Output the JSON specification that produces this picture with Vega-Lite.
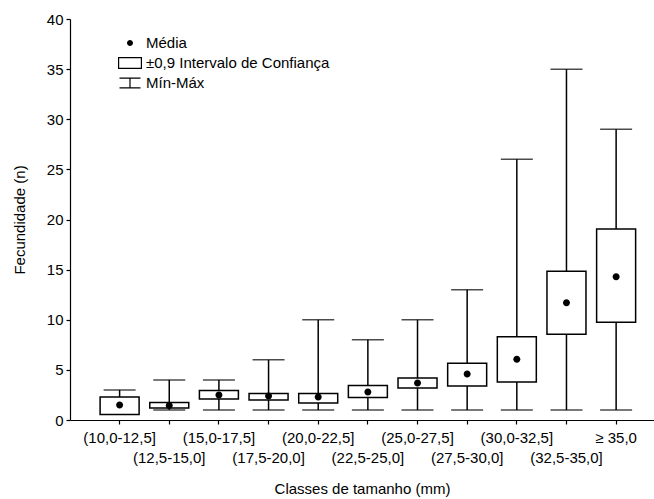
{
  "$schema": "https://vega.github.io/schema/vega-lite/v6.json",
  "autosize": {"type": "none"},
  "padding": {"left": 70, "top": 19, "right": 0, "bottom": 79},
  "width": 584,
  "height": 401,
  "background": "white",
  "config": {
    "view": {"stroke": null},
    "font": "Liberation Sans",
    "axis": {
      "domainColor": "black", "tickColor": "black", "labelColor": "black", "titleColor": "black",
      "labelFont": "Liberation Sans", "titleFont": "Liberation Sans",
      "labelFontSize": 15, "titleFontSize": 15, "titleFontWeight": "normal",
      "grid": false, "tickSize": 4, "domainWidth": 1.2, "tickWidth": 1.2
    },
    "legend": {"labelFont": "Liberation Sans", "labelFontSize": 15, "labelColor": "black"}
  },
  "data": {
    "values": [
      {"classe": "(10,0-12,5]", "min": 1, "max": 3, "lo": 0.55, "hi": 2.3, "media": 1.5},
      {"classe": "(12,5-15,0]", "min": 1, "max": 4, "lo": 1.2, "hi": 1.75, "media": 1.45},
      {"classe": "(15,0-17,5]", "min": 1, "max": 4, "lo": 2.1, "hi": 2.95, "media": 2.5},
      {"classe": "(17,5-20,0]", "min": 1, "max": 6, "lo": 2.0, "hi": 2.65, "media": 2.4},
      {"classe": "(20,0-22,5]", "min": 1, "max": 10, "lo": 1.7, "hi": 2.65, "media": 2.3},
      {"classe": "(22,5-25,0]", "min": 1, "max": 8, "lo": 2.25, "hi": 3.45, "media": 2.8},
      {"classe": "(25,0-27,5]", "min": 1, "max": 10, "lo": 3.2, "hi": 4.2, "media": 3.7},
      {"classe": "(27,5-30,0]", "min": 1, "max": 13, "lo": 3.4, "hi": 5.65, "media": 4.6},
      {"classe": "(30,0-32,5]", "min": 1, "max": 26, "lo": 3.8, "hi": 8.3, "media": 6.05},
      {"classe": "(32,5-35,0]", "min": 1, "max": 35, "lo": 8.55, "hi": 14.85, "media": 11.7},
      {"classe": "≥ 35,0", "min": 1, "max": 29, "lo": 9.75, "hi": 19.05, "media": 14.3}
    ]
  },
  "encoding": {
    "x": {
      "field": "classe", "type": "nominal", "sort": null,
      "scale": {"type": "band", "paddingInner": 0, "paddingOuter": 0.381, "align": 0.655},
      "axis": {
        "title": "Classes de tamanho (mm)", "labelAngle": 0, "bandPosition": 0.5,
        "labelPadding": 6, "labelLineHeight": 20, "titlePadding": 16,
        "labelExpr": "indexof(domain('x'), datum.value) % 2 == 1 ? ['', datum.label] : datum.label"
      }
    }
  },
  "layer": [
    {
      "mark": {"type": "rule", "color": "black", "strokeWidth": 1.5},
      "encoding": {
        "y": {"field": "min", "type": "quantitative", "scale": {"domain": [0, 40]},
          "axis": {"title": "Fecundidade (n)", "values": [0, 5, 10, 15, 20, 25, 30, 35, 40], "labelPadding": 3, "titlePadding": 19}},
        "y2": {"field": "max"}
      }
    },
    {
      "mark": {"type": "tick", "color": "black", "size": 32, "thickness": 1.5, "orient": "horizontal"},
      "encoding": {"y": {"field": "max", "type": "quantitative"}}
    },
    {
      "mark": {"type": "tick", "color": "black", "size": 32, "thickness": 1.5, "orient": "horizontal"},
      "encoding": {"y": {"field": "min", "type": "quantitative"}}
    },
    {
      "mark": {"type": "bar", "fill": "white", "stroke": "black", "strokeWidth": 1.5, "width": 39},
      "encoding": {
        "y": {"field": "lo", "type": "quantitative"},
        "y2": {"field": "hi"}
      }
    },
    {
      "mark": {"type": "point", "filled": true, "color": "black", "size": 547, "opacity": 1, "strokeWidth": 0},
      "encoding": {
        "y": {"field": "media", "type": "quantitative"},
        "shape": {
          "datum": "Média",
          "scale": {
            "domain": ["Média", "±0,9 Intervalo de Confiança", "Mín-Máx"],
            "range": [
              "M-0.3,0A0.3,0.3,0,1,0,0.3,0A0.3,0.3,0,1,0,-0.3,0Z",
              "M-1.2,-0.6H1.2V0.6H-1.2Z M-1.08,-0.48V0.48H1.08V-0.48Z",
              "M-1.05,-0.55H1.05V-0.43H-1.05Z M-0.06,-0.55H0.06V0.55H-0.06Z M-1.05,0.43H1.05V0.55H-1.05Z"
            ]
          },
          "legend": {
            "title": null, "orient": "none", "legendX": 50, "legendY": 14,
            "symbolSize": 400, "rowPadding": 2, "labelOffset": 6, "labelLimit": 400,
            "symbolFillColor": "black", "symbolStrokeWidth": 0, "symbolOpacity": 1
          }
        }
      }
    }
  ]
}
